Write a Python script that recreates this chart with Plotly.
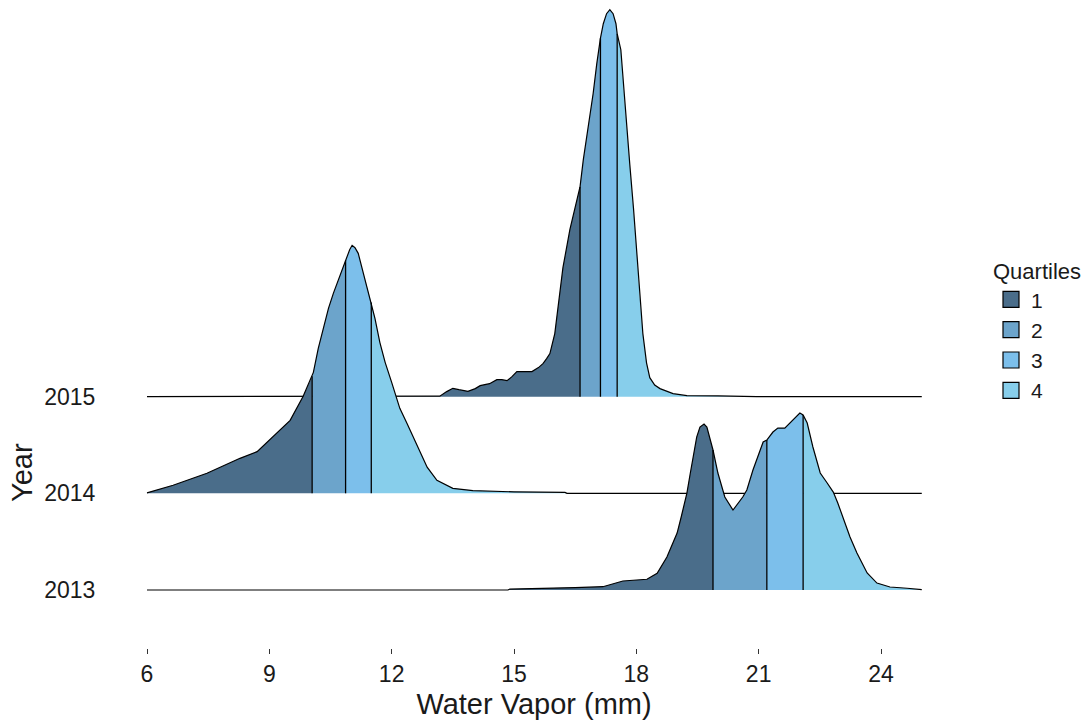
import numpy as np
import plotly.graph_objects as go

# ---------------- data ----------------
years = ["2013", "2014", "2015"]
quartile_names = ["1", "2", "3", "4"]
quartile_colors = ["#4A6D8A", "#6CA4CB", "#7CBFEB", "#87CEEB"]
x_ticks = [6, 9, 12, 15, 18, 21, 24]

# density curves (x in mm, height in row units)
x_2013 = [6.0, 14.85, 14.90, 16.20, 16.50, 17.18, 17.40, 17.67, 18.26, 18.51, 18.75, 19.00,
          19.10, 19.24, 19.32, 19.39, 19.48, 19.56, 19.66, 19.73, 19.80, 19.88, 20.00, 20.17,
          20.37, 20.61, 20.71, 20.86, 21.11, 21.20, 21.35, 21.47, 21.64, 21.77, 21.89, 22.01,
          22.09, 22.19, 22.33, 22.51, 22.68, 22.83, 22.94, 23.07, 23.24, 23.41, 23.66, 23.90,
          24.22, 24.64, 24.96, 25.0]
d_2013 = [0.0, 0.0, 0.010, 0.018, 0.025, 0.034, 0.060, 0.093, 0.111, 0.173, 0.341, 0.589,
          0.755, 1.003, 1.200, 1.375, 1.582, 1.686, 1.717, 1.686, 1.582, 1.448, 1.210, 0.962,
          0.827, 0.962, 1.034, 1.241, 1.531, 1.551, 1.634, 1.675, 1.675, 1.727, 1.779, 1.830,
          1.810, 1.727, 1.479, 1.210, 1.107, 1.013, 0.900, 0.755, 0.548, 0.383, 0.176, 0.072,
          0.031, 0.018, 0.007, 0.005]
q_2013 = [19.88, 21.20, 22.09]

x_2014 = [6.0, 6.64, 7.47, 8.28, 8.70, 9.09, 9.51, 9.83, 10.05, 10.08, 10.20, 10.32, 10.45,
          10.57, 10.73, 10.87, 10.97, 11.03, 11.10, 11.18, 11.30, 11.43, 11.51, 11.59, 11.71,
          11.84, 12.00, 12.20, 12.38, 12.62, 12.87, 13.11, 13.50, 13.99, 15.00, 16.25, 16.30,
          25.0]
d_2014 = [0.005, 0.083, 0.207, 0.362, 0.431, 0.586, 0.755, 1.003, 1.210, 1.251, 1.500, 1.706,
          1.913, 2.068, 2.254, 2.410, 2.520, 2.565, 2.540, 2.482, 2.285, 2.079, 1.960, 1.810,
          1.562, 1.355, 1.148, 0.879, 0.720, 0.500, 0.270, 0.134, 0.052, 0.028, 0.015, 0.010,
          0.0, 0.0]
q_2014 = [10.05, 10.87, 11.50]

x_2015 = [6.0, 13.10, 13.18, 13.35, 13.50, 13.65, 13.87, 14.05, 14.17, 14.40, 14.58, 14.70,
          14.83, 14.95, 15.07, 15.25, 15.44, 15.60, 15.71, 15.80, 15.88, 16.00, 16.10, 16.20,
          16.37, 16.50, 16.62, 16.70, 16.82, 16.94, 17.03, 17.12, 17.19, 17.27, 17.35, 17.43,
          17.50, 17.53, 17.62, 17.68, 17.76, 17.84, 17.93, 18.01, 18.08, 18.16, 18.25, 18.33,
          18.45, 18.58, 18.90, 19.24, 20.00, 20.90, 20.95, 25.0]
d_2015 = [0.0, 0.0, 0.005, 0.052, 0.086, 0.072, 0.055, 0.083, 0.114, 0.134, 0.176, 0.176,
          0.165, 0.207, 0.259, 0.259, 0.259, 0.300, 0.341, 0.393, 0.445, 0.652, 0.982, 1.334,
          1.727, 1.965, 2.172, 2.451, 2.792, 3.133, 3.444, 3.708, 3.857, 3.961, 4.002, 3.961,
          3.857, 3.754, 3.588, 3.237, 2.823, 2.400, 1.950, 1.510, 1.050, 0.652, 0.350, 0.196,
          0.120, 0.083, 0.031, 0.010, 0.007, 0.004, 0.0, 0.0]
q_2015 = [16.62, 17.12, 17.53]

series = {
    "2013": (x_2013, d_2013, q_2013),
    "2014": (x_2014, d_2014, q_2014),
    "2015": (x_2015, d_2015, q_2015),
}

# ---------------- figure ----------------
fig = go.Figure()
FONT = "Arial, Liberation Sans, sans-serif"
TXT = "#1a1a1a"

# draw top row first so lower rows overlap it (ridgeline order)
for yr in reversed(years):
    xs, ds, qs = series[yr]
    xs = np.array(xs, dtype=float)
    ds = np.array(ds, dtype=float)
    base = years.index(yr)
    bounds = [xs[0]] + list(qs) + [xs[-1]]
    for qi in range(4):
        lo, hi = bounds[qi], bounds[qi + 1]
        inner = (xs > lo) & (xs < hi)
        px = np.concatenate([[lo], xs[inner], [hi]])
        py = np.interp(px, xs, ds) + base
        poly_x = np.concatenate([px, [hi, lo]])
        poly_y = np.concatenate([py, [base, base]])
        fig.add_trace(go.Scatter(
            x=poly_x, y=poly_y, mode="lines", fill="toself",
            fillcolor=quartile_colors[qi], line=dict(width=0),
            hoverinfo="skip", showlegend=False, legendgroup=quartile_names[qi]))
    for q in qs:
        fig.add_trace(go.Scatter(
            x=[q, q], y=[base, base + float(np.interp(q, xs, ds))], mode="lines",
            line=dict(color="black", width=1.3), hoverinfo="skip", showlegend=False))
    fig.add_trace(go.Scatter(
        x=xs, y=ds + base, mode="lines", line=dict(color="black", width=1.2),
        hoverinfo="skip", showlegend=False))

# legend entries
for qi, name in enumerate(quartile_names):
    fig.add_trace(go.Scatter(
        x=[None], y=[None], mode="markers", name=name, legendgroup=name,
        marker=dict(symbol="square", size=16, color=quartile_colors[qi],
                    line=dict(color="black", width=1.2))))

L, R, T, B = 110, 958, 5, 648
W, H = 1091, 725
PW = R - L
fig.update_layout(
    width=W, height=H,
    margin=dict(l=L, r=W - R, t=T, b=H - B, pad=0),
    paper_bgcolor="white", plot_bgcolor="white",
    font=dict(family=FONT, color=TXT),
    showlegend=True,
    legend=dict(
        title=dict(text="Quartiles", font=dict(size=22, color=TXT)),
        font=dict(size=21, color=TXT),
        x=(991 - L) / PW, xanchor="left", y=0.618, yanchor="top",
        bgcolor="rgba(0,0,0,0)", itemsizing="trace", tracegroupgap=3,
        traceorder="normal"),
    annotations=[dict(
        text="Year", textangle=-90, xref="paper", yref="y",
        x=(22 - L) / PW, y=(590 - 473) / 96.7, xanchor="center", yanchor="middle",
        showarrow=False, font=dict(size=29, family=FONT, color=TXT))],
)
fig.update_xaxes(
    range=[6 - 37 / 40.78, 24 + (R - 881) / 40.78], tickvals=x_ticks,
    ticktext=[str(v) for v in x_ticks],
    showgrid=False, zeroline=False, showline=False,
    ticks="outside", ticklen=5, tickwidth=1, tickcolor="#333333",
    tickfont=dict(size=23, family=FONT, color=TXT),
    title=dict(text="Water Vapor (mm)", font=dict(size=29, family=FONT, color=TXT),
               standoff=8),
    automargin=False, fixedrange=True)
fig.update_yaxes(
    range=[-(648 - 590) / 96.7, 2 + (396.7 - 5) / 96.7],
    tickvals=[0, 1, 2], ticktext=years,
    showgrid=False, zeroline=False, showline=False,
    ticks="outside", ticklen=9, tickcolor="rgba(0,0,0,0)",
    tickfont=dict(size=23, family=FONT, color=TXT),
    automargin=False, fixedrange=True)

fig.write_html("out.html", config={"displayModeBar": False},
               post_script="document.body.style.margin='0px';")
